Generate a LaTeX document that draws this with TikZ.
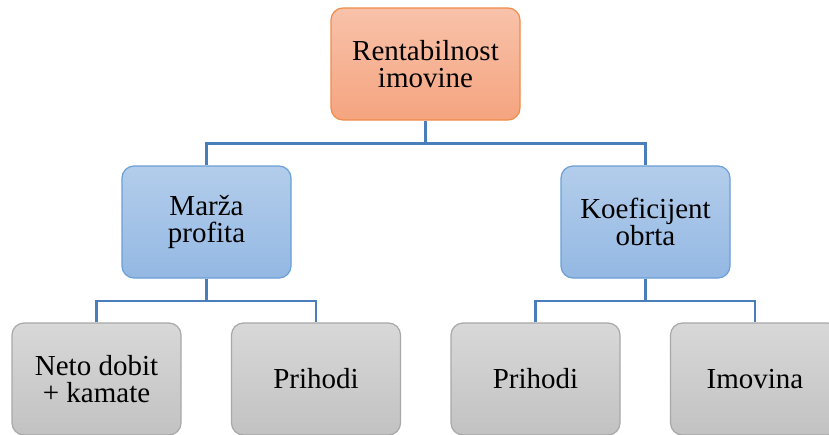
\documentclass[tikz,border=0pt]{standalone}
\usepackage{fontspec}
\setmainfont{Liberation Serif}
\definecolor{conn}{HTML}{4A7EBB}
\definecolor{orbord}{HTML}{F08C4A}
\definecolor{ortop}{HTML}{F8C2AA}
\definecolor{orbot}{HTML}{F5A47F}
\definecolor{blbord}{HTML}{6A9FD6}
\definecolor{bltop}{HTML}{B3CDEB}
\definecolor{blbot}{HTML}{94B8E3}
\definecolor{grbord}{HTML}{A8A8A8}
\definecolor{grtop}{HTML}{D8D8D8}
\definecolor{grbot}{HTML}{C2C2C2}
\tikzset{
  box/.style={rounded corners=12pt, line width=1.2pt, align=center,
    minimum width=169pt, minimum height=112pt, inner sep=0pt,
    font=\fontsize{29}{26.5}\selectfont},
  orbox/.style={box, draw=orbord, top color=ortop, bottom color=orbot, minimum width=189pt},
  blbox/.style={box, draw=blbord, top color=bltop, bottom color=blbot},
  grbox/.style={box, draw=grbord, top color=grtop, bottom color=grbot},
  conline/.style={draw=conn, line width=2.6pt}
}
\begin{document}
\begin{tikzpicture}[x=1pt,y=-1pt]
\useasboundingbox (0,0) rectangle (829,434);
\clip (0,0) rectangle (829,434);
\fill[white] (0,0) rectangle (829,434);
\node[orbox] (top) at (425.5,64) {Rentabilnost\\imovine};
\node[blbox] (ml) at (206.5,222) {Marža\\profita};
\node[blbox] (mr) at (645.5,222) {Koeficijent\\obrta};
\node[grbox] (b1) at (96.5,379) {Neto dobit\\+ kamate};
\node[grbox] (b2) at (316,379) {Prihodi};
\node[grbox] (b3) at (535.5,379) {Prihodi};
\node[grbox] (b4) at (755,379) {Imovina};
\draw[conline] (top.south) -- ++(0,23) -| (ml.north);
\draw[conline] (top.south) -- ++(0,23) -| (mr.north);
\draw[conline] (ml.south) -- ++(0,22.5) -| (b1.north);
\draw[conline] (ml.south) -- ++(0,22.5) -| (b2.north);
\draw[conline] (mr.south) -- ++(0,22.5) -| (b3.north);
\draw[conline] (mr.south) -- ++(0,22.5) -| (b4.north);
\end{tikzpicture}
\end{document}
